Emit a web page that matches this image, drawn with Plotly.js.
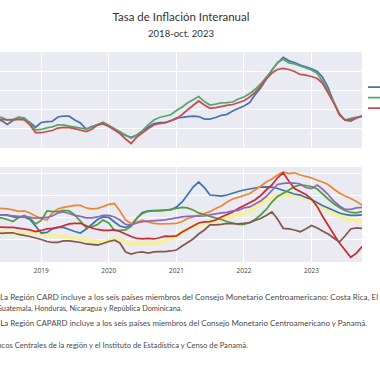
<!DOCTYPE html>
<html><head><meta charset="utf-8">
<script src="https://cdn.plot.ly/plotly-3.0.1.min.js"></script>
<style>
html,body{margin:0;padding:0;width:380px;height:380px;overflow:hidden;background:#fff}
#chart{position:absolute;left:-60px;top:0;width:1124px;height:760px;transform:scale(0.5);transform-origin:0 0}
</style>
</head><body><div id="chart"></div><script>
const months = ['2018-01','2018-02','2018-03','2018-04','2018-05','2018-06','2018-07','2018-08','2018-09','2018-10','2018-11','2018-12',
'2019-01','2019-02','2019-03','2019-04','2019-05','2019-06','2019-07','2019-08','2019-09','2019-10','2019-11','2019-12',
'2020-01','2020-02','2020-03','2020-04','2020-05','2020-06','2020-07','2020-08','2020-09','2020-10','2020-11','2020-12',
'2021-01','2021-02','2021-03','2021-04','2021-05','2021-06','2021-07','2021-08','2021-09','2021-10','2021-11','2021-12',
'2022-01','2022-02','2022-03','2022-04','2022-05','2022-06','2022-07','2022-08','2022-09','2022-10','2022-11','2022-12',
'2023-01','2023-02','2023-03','2023-04','2023-05','2023-06','2023-07','2023-08','2023-09','2023-10'];

// Panel superior: regiones
const regionNames = ['CA', 'CARD 1/', 'CAPARD 2/'];
const regionCA = [3.13,3.02,2.92,2.81,2.92,2.86,2.45,2.86,3.20,3.05,2.66,2.16,2.66,2.74,2.76,3.23,3.33,3.31,2.92,2.60,1.98,2.23,2.42,2.52,2.29,1.93,1.61,1.30,1.11,1.35,1.72,2.19,2.55,2.64,2.64,2.81,3.13,3.18,3.28,3.33,3.28,3.02,3.02,3.18,3.41,3.51,3.85,4.11,4.38,4.74,5.52,6.25,7.19,8.13,8.85,9.45,9.08,8.91,8.65,8.44,8.25,7.97,7.40,6.30,4.79,3.44,2.89,2.81,3.13,3.33];
const regionCARD = [3.33,3.23,3.13,3.23,3.23,3.18,2.92,2.99,3.18,3.13,2.60,1.88,1.93,2.10,2.21,2.40,2.40,2.29,2.19,2.10,1.96,2.16,2.45,2.68,2.38,2.03,1.71,1.39,1.02,1.35,1.80,2.40,2.92,3.18,3.33,3.46,3.91,4.27,4.69,5.03,5.36,4.84,4.48,4.56,4.69,4.72,4.79,5.10,5.31,5.68,6.09,6.67,7.34,8.07,8.91,9.24,8.86,8.75,8.54,8.35,8.13,7.76,6.98,5.94,4.84,3.59,2.92,3.10,3.23,3.33];
const regionCAPARD = [3.13,3.02,2.92,3.02,3.02,2.99,2.92,2.92,2.97,2.94,2.40,1.59,1.59,1.73,1.82,2.08,2.16,2.13,2.02,1.85,1.71,1.96,2.40,2.55,2.25,1.88,1.51,0.94,0.47,1.15,1.61,2.03,2.40,2.55,2.63,2.86,3.04,3.49,3.96,4.46,4.90,4.48,4.14,4.21,4.34,4.43,4.53,4.74,4.92,5.31,5.78,6.46,7.19,7.81,8.18,8.30,8.18,7.97,7.66,7.60,7.45,7.24,6.77,5.73,4.69,3.49,2.92,2.94,3.13,3.33];

// Panel inferior: países
const countryNames = ['El Salvador','República Dominicana','Honduras','Guatemala','Costa Rica','Nicaragua','Panamá'];
const elSalvador = [1.80,1.62,1.44,1.62,1.62,1.44,1.35,1.21,1.12,1.26,1.44,1.35,1.08,0.90,0.81,0.72,0.65,0.54,0.36,0.18,0.00,-0.18,-0.31,-0.31,-0.09,0.09,0.00,-0.27,-0.72,-0.72,-0.59,-0.59,-0.59,-0.45,-0.18,0.09,0.72,1.44,1.98,2.34,2.70,3.06,3.29,3.47,3.69,4.01,4.32,4.50,4.71,5.13,5.85,6.48,7.10,7.64,8.00,8.09,8.09,8.00,7.82,7.46,7.01,6.48,5.85,5.31,4.77,4.26,3.87,3.69,3.51,3.29];
const repDominicana = [4.68,4.50,4.86,4.68,4.50,4.50,4.50,4.14,4.05,4.14,3.69,2.52,1.26,1.35,1.98,2.25,2.25,1.89,1.53,1.26,1.98,2.79,3.69,4.14,4.05,3.24,2.52,2.25,2.70,3.96,4.95,5.22,5.27,5.34,5.40,5.43,5.94,6.83,8.09,9.53,10.43,9.44,8.09,8.00,7.91,8.09,8.45,8.72,8.99,9.17,9.35,9.53,9.57,9.53,9.26,8.90,8.54,8.27,8.09,7.64,7.28,6.74,6.21,5.76,5.31,4.86,4.59,4.41,4.41,4.50];
const honduras = [5.94,5.76,5.94,5.58,5.76,5.67,5.58,5.40,5.13,5.22,4.86,4.32,3.90,3.60,4.86,5.58,5.85,6.03,6.21,6.21,5.76,5.58,5.70,5.99,6.39,6.56,5.22,3.60,2.97,3.24,3.56,3.24,2.97,2.88,2.88,2.93,3.00,3.33,3.87,4.14,4.41,4.77,5.09,5.67,6.12,6.83,7.37,7.68,8.00,8.36,8.99,9.66,10.43,10.97,11.69,12.23,11.96,12.09,11.69,11.42,11.19,10.74,10.43,9.98,9.17,8.45,7.91,7.46,6.92,6.30];
const guatemala = [4.32,4.14,3.78,3.96,3.96,3.96,3.69,3.33,4.05,4.41,3.96,2.88,3.51,5.22,5.13,5.09,5.31,5.22,4.50,3.42,2.25,2.34,2.79,3.60,3.06,1.71,1.71,1.80,2.43,3.87,4.77,5.13,5.25,5.22,5.31,5.49,5.70,5.85,5.76,5.40,4.86,4.59,4.23,3.96,3.69,3.33,3.06,2.79,2.79,3.15,3.69,4.50,5.49,6.83,7.82,8.45,8.99,9.59,9.89,9.80,9.62,9.17,8.27,7.37,6.51,5.85,5.31,4.95,4.86,5.09];
const costaRica = [2.52,2.34,2.34,2.52,2.34,2.28,2.28,2.25,2.10,1.98,1.80,1.53,1.71,1.98,2.07,2.25,2.52,2.88,3.00,3.00,2.55,2.16,1.89,1.71,1.71,1.80,1.53,1.08,0.63,0.27,0.18,0.27,0.18,0.40,0.68,0.63,0.72,1.44,1.98,2.52,3.06,3.24,3.29,3.60,4.14,4.59,5.04,5.67,6.21,6.74,7.19,8.00,8.99,9.89,11.19,12.10,10.56,9.26,8.67,8.18,7.37,5.99,4.32,2.57,1.03,-0.54,-1.76,-3.11,-2.37,-1.19];
const nicaragua = [4.68,4.50,4.68,4.50,4.50,4.50,4.41,4.32,4.26,4.19,4.05,3.92,3.96,4.05,4.32,4.86,5.04,4.77,4.41,4.23,3.96,3.96,4.14,4.41,4.41,4.14,3.60,2.79,2.70,3.06,3.29,3.36,3.42,3.51,3.63,3.81,3.99,4.14,4.23,4.28,4.32,4.35,4.50,4.68,4.86,4.95,5.22,5.31,5.76,5.94,6.48,7.01,7.82,8.90,9.98,10.20,10.29,10.25,10.07,9.44,9.26,9.89,9.17,8.18,7.01,6.12,5.49,5.49,5.76,5.88];
const panama = [1.44,1.26,1.44,1.26,1.26,1.21,1.26,1.30,0.99,0.81,0.63,0.36,0.09,-0.27,-0.45,-0.41,-0.18,-0.14,-0.27,-0.45,-0.72,-0.81,-0.90,-0.63,-0.27,-0.05,-0.54,-2.16,-2.52,-2.25,-2.16,-2.34,-2.16,-2.10,-2.10,-1.98,-1.80,-1.08,-0.45,0.18,1.08,1.80,2.70,2.70,2.82,2.97,2.95,2.88,3.00,3.11,3.51,3.87,4.41,5.04,3.78,2.10,1.98,1.80,1.49,1.98,2.61,2.16,1.62,1.08,0.36,-0.36,0.72,1.98,2.16,2.07];

const yearTicks = ['2019-01-01','2020-01-01','2021-01-01','2022-01-01','2023-01-01'];
const yearLabels = ['2019','2020','2021','2022','2023'];

const titleText = 'Tasa de Inflación Interanual';
const subtitleText = '2018-oct. 2023';
const noteLines = [
  '1/ La Región CARD incluye a los seis países miembros del Consejo Monetario Centroamericano: Costa Rica, El Salvador,',
  'Guatemala, Honduras, Nicaragua y República Dominicana.',
  '2/ La Región CAPARD incluye a los seis países miembros del Consejo Monetario Centroamericano y Panamá.',
  'Fuente: Bancos Centrales de la región y el Instituto de Estadística y Censo de Panamá.'
];

// ---- rendering (drawn at 2x, displayed at 0.5 scale) ----
const FAM = 'Lato, sans-serif';
const ctx = document.createElement('canvas').getContext('2d');
function tw(t, size){ ctx.font = size + 'px Lato'; return ctx.measureText(t).width; }
function fit(t, target){ return 20 * target / tw(t, 20); }
const plotW = 724;
const titleSize = fit(titleText, 274);
const subSize = fit(subtitleText, 132);

function py(y1){ return (263 - y1) / 211; }
// visible part of each footnote: [hidden prefix, visible part, visible left, visible right, centre y] (1x px)
const noteView = [
  ['1/ L', 'a Región CARD incluye a los seis países miembros del Consejo Monetario Centroamericano: Costa Rica, El', 3.3, 378, 296],
  ['G', 'uatemala, Honduras, Nicaragua y República Dominicana.', 0.7, 181.7, 307.5],
  ['2/ L', 'a Región CAPARD incluye a los seis países miembros del Consejo Monetario Centroamericano y Panamá.', 3.3, 366.7, 322],
  ['Fuente: Ban', 'cos Centrales de la región y el Instituto de Estadística y Censo de Panamá.', 0.7, 248.3, 344.5]
];
const annotations = noteLines.map((t,i)=>{
  const v = noteView[i];
  const fs = fit(v[1], 2*(v[3]-v[2]));
  return {text: t, xref:'paper', yref:'paper', showarrow:false, xanchor:'left', yanchor:'middle', align:'left',
    x: (2*v[2] - tw(v[0], fs)) / plotW, y: py(v[4]),
    font:{family:FAM, size:fs, color:'#4a4a4a'}};
});
annotations.push({text: subtitleText, xref:'paper', yref:'paper', showarrow:false, xanchor:'center', yanchor:'middle',
  x:0.5, y: py(32.5), font:{family:FAM, size:subSize, color:'#333'}});

const topColors = ['#4C72B0','#55A868','#C44E52'];
const topSeries = [regionCA, regionCARD, regionCAPARD];
const traces = topSeries.map((s,i)=>({
  x: months, y: s, type:'scatter', mode:'lines', name: regionNames[i],
  line:{color: topColors[i], width:3.5}, xaxis:'x', yaxis:'y', showlegend:true
}));
const botSeries = [elSalvador, repDominicana, honduras, guatemala, costaRica, nicaragua, panama];
const botColors = ['#F5F0A0','#3B75AF','#EF8636','#519E3E','#CC2A33','#8D69B8','#84584E'];
botSeries.forEach((s,i)=>traces.push({
  x: months, y: s, type:'scatter', mode:'lines', name: countryNames[i],
  line:{color: botColors[i], width: i===0 ? 8 : 3.5}, xaxis:'x2', yaxis:'y2', showlegend:false
}));

const xCommon = {type:'date', range:['2018-05-23','2023-10-01'], tickvals: yearTicks, ticktext: yearLabels,
  showgrid:true, gridcolor:'#ffffff', gridwidth:2, zeroline:false, showline:false, ticks:''};
const layout = {
  width:1124, height:760,
  margin:{l:120, r:280, t:104, b:234},
  paper_bgcolor:'#ffffff', plot_bgcolor:'#EAEAF2',
  font:{family:FAM, color:'#444'},
  title:{text:titleText, xref:'paper', x:0.5, xanchor:'center', yref:'container', y:1-17/380, yanchor:'middle',
    font:{family:FAM, size:titleSize, color:'#333'}},
  xaxis: Object.assign({}, xCommon, {anchor:'y', showticklabels:false, matches:'x2'}),
  xaxis2: Object.assign({}, xCommon, {anchor:'y2', showticklabels:true, ticklabelstandoff:5,
    tickfont:{family:'Open Sans', size:13, color:'#444'}}),
  yaxis:{domain:[0.545,1], range:[0,10], dtick:2, gridcolor:'#ffffff', gridwidth:2, zeroline:false, ticks:'',
    ticksuffix:'%', tickfont:{family:'Open Sans', size:13, color:'#444'}},
  yaxis2:{domain:[0,0.455], range:[-4.14,13.13], dtick:4, gridcolor:'#ffffff', gridwidth:2, zeroline:false, ticks:'',
    ticksuffix:'%', tickfont:{family:'Open Sans', size:13, color:'#444'}},
  legend:{x:(736-5)/724, xanchor:'left', y:0.871, yanchor:'top', font:{family:FAM, size:14, color:'#333'}, bgcolor:'rgba(0,0,0,0)'},
  annotations: annotations
};
Plotly.newPlot('chart', traces, layout, {displayModeBar:false, staticPlot:true});
</script></body></html>
